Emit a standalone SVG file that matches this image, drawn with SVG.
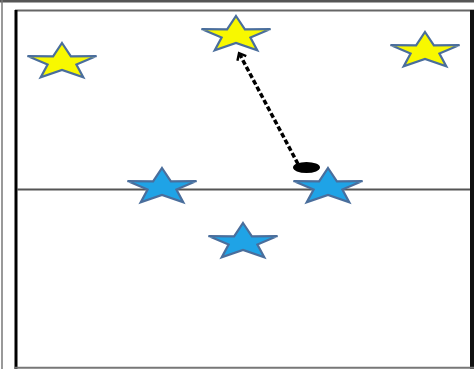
<svg xmlns="http://www.w3.org/2000/svg" width="474" height="369" viewBox="0 0 474 369">
<style>
.star{stroke:#4a6e9c;stroke-width:2.2;stroke-linejoin:miter}
.yellow{fill:#f8f800}
.blue{fill:#1fa3e6}
</style>
<defs>
<polygon id="star" points="0,-19 8.9,-5.6 34.5,-5.9 14.4,2.5 21.3,15.4 0,8 -21.3,15.4 -14.4,2.5 -34.5,-5.9 -8.9,-5.6"/>
<marker id="chev" markerWidth="12" markerHeight="12" refX="6" refY="6" orient="auto" markerUnits="userSpaceOnUse" viewBox="0 0 12 12">
<path d="M1,1 L7,6 L1,11" fill="none" stroke="#000" stroke-width="2.4"/>
</marker>
</defs>
<rect width="474" height="369" fill="#fff"/>
<g id="frame">
<rect x="0" y="0" width="474" height="2.5" fill="#555"/>
<line x1="2" y1="0" x2="2" y2="369" stroke="#777" stroke-width="1.5"/>
<line x1="15" y1="10.5" x2="474" y2="10.5" stroke="#666" stroke-width="2"/>
<line x1="16" y1="10" x2="16" y2="369" stroke="#000" stroke-width="3"/>
<line x1="472" y1="10" x2="472" y2="369" stroke="#111" stroke-width="4"/>
<line x1="15" y1="367.8" x2="474" y2="367.8" stroke="#777" stroke-width="2"/>
<line x1="17" y1="189.5" x2="470" y2="189.5" stroke="#555" stroke-width="2"/>
</g>
<g id="star-yellow-left"><use href="#star" class="star yellow" transform="translate(62,62)"/></g>
<g id="star-yellow-mid"><use href="#star" class="star yellow" transform="translate(236,35)"/></g>
<g id="star-yellow-right"><use href="#star" class="star yellow" transform="translate(425,51)"/></g>
<g id="star-blue-left"><use href="#star" class="star blue" transform="translate(162,187)"/></g>
<g id="star-blue-right"><use href="#star" class="star blue" transform="translate(328,187)"/></g>
<g id="star-blue-bottom"><use href="#star" class="star blue" transform="translate(243,242)"/></g>
<g id="ball"><ellipse cx="306.5" cy="167.5" rx="13.5" ry="5.5" fill="#000"/></g>
<g id="connectors">
<line x1="298" y1="164" x2="239.5" y2="54" stroke="#000" stroke-width="3.5" stroke-dasharray="5,2.5" marker-end="url(#chev)"/>
</g>
</svg>
